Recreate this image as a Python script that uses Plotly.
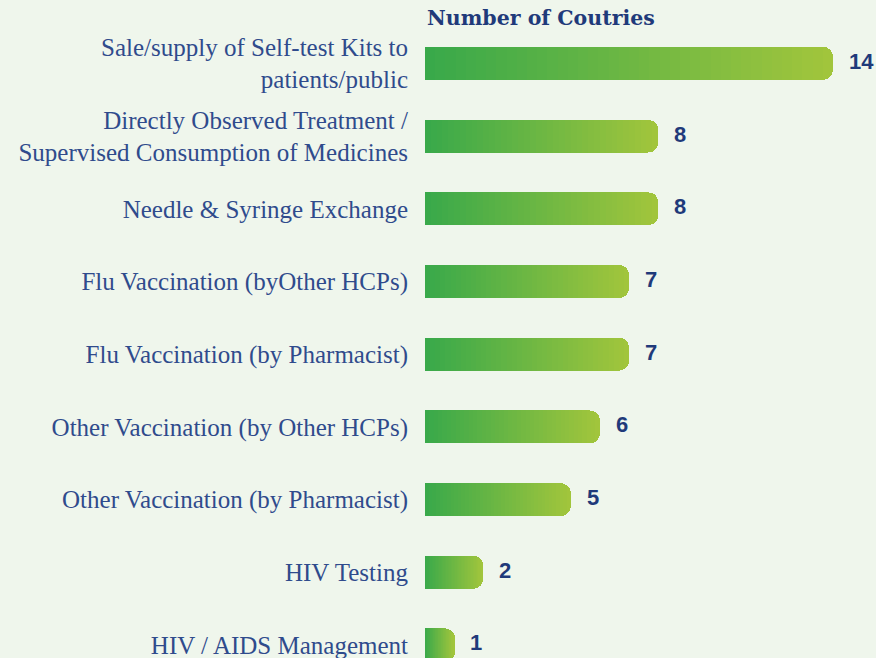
import plotly.graph_objects as go

categories = [
    "Sale/supply of Self-test Kits to<br>patients/public",
    "Directly Observed Treatment /<br>Supervised Consumption of Medicines",
    "Needle & Syringe Exchange",
    "Flu Vaccination (byOther HCPs)",
    "Flu Vaccination (by Pharmacist)",
    "Other Vaccination (by Other HCPs)",
    "Other Vaccination (by Pharmacist)",
    "HIV Testing",
    "HIV / AIDS Management",
]
values = [14, 8, 8, 7, 7, 6, 5, 2, 1]
title_text = "Number of Coutries"

start_rgb = (57, 169, 74)
end_rgb = (161, 197, 60)
N = 40

def lerp(a, b, t):
    return tuple(round(a[i] + (b[i] - a[i]) * t) for i in range(3))

fig = go.Figure()
for k in range(N):
    t = k / (N - 1)
    c = lerp(start_rgb, end_rgb, t)
    fig.add_trace(go.Bar(
        y=categories,
        x=[v / N for v in values],
        orientation="h",
        marker=dict(color=f"rgb{c}", line=dict(width=0)),
        showlegend=False,
        hoverinfo="skip",
    ))

for cat, v in zip(categories, values):
    fig.add_annotation(
        x=v, y=cat, xref="x", yref="y",
        text=f"<b>{v}</b>", showarrow=False,
        xanchor="left", yanchor="middle", xshift=14, yshift=2,
        font=dict(family="Liberation Sans, Arial, sans-serif", size=22, color="#1f3a7a"),
    )

fig.add_annotation(
    x=0, y=1, xref="paper", yref="paper", yshift=-5,
    text=f"<b>{title_text}</b>", showarrow=False,
    xanchor="left", yanchor="bottom",
    font=dict(family="DejaVu Serif, serif", size=20.5, color="#1f3a7a"),
)

px_per_unit = 29.14
plot_w = 876 - 425
fig.update_layout(
    width=876, height=658,
    margin=dict(l=425, r=0, t=27, b=0),
    paper_bgcolor="#eff6ec",
    plot_bgcolor="rgba(0,0,0,0)",
    barmode="stack",
    bargap=0.545,
    barcornerradius=10,
    xaxis=dict(range=[0, plot_w / px_per_unit], visible=False, fixedrange=True),
    yaxis=dict(
        range=[-0.5 + 631 / 72.7, -0.5],
        showgrid=False, zeroline=False, showline=False, ticks="",
        ticklabelstandoff=16,
        tickfont=dict(family="Liberation Serif, serif", size=25, color="#2f4b8c"),
    ),
)

fig.write_html(
    "out.html",
    config={"displayModeBar": False},
    post_script="document.body.style.margin='0';document.body.style.overflow='hidden';",
)
